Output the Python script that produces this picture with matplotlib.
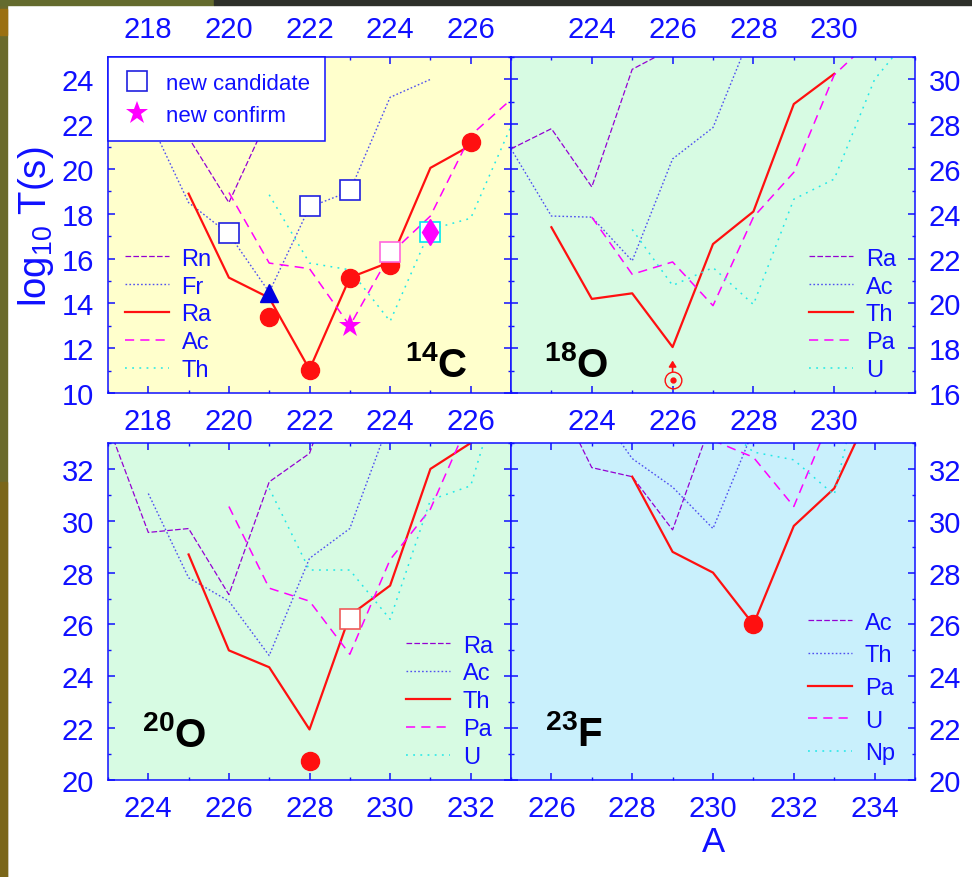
import numpy as np
import matplotlib
matplotlib.use("Agg")
import matplotlib.pyplot as plt
from matplotlib.patches import Rectangle

plt.rcParams['font.family'] = ['Liberation Sans', 'DejaVu Sans']
plt.rcParams['mathtext.fontset'] = 'custom'
plt.rcParams['mathtext.rm'] = 'Liberation Sans'
plt.rcParams['mathtext.it'] = 'Liberation Sans:italic'
plt.rcParams['mathtext.bf'] = 'Liberation Sans:bold'

# ---------------- 14C (Rn, Fr, Ra, Ac, Th) ----------------
c14_labels = ["Rn", "Fr", "Ra", "Ac", "Th"]
c14_x = [[218, 219, 220, 221, 222],
         [218, 219, 220, 221, 222, 223, 224, 225],
         [219, 220, 221, 222, 223, 224, 225, 226],
         [220, 221, 222, 223, 224, 225, 226, 227],
         [221, 222, 223, 224, 225, 226, 227]]
c14_y = [[24.5, 21.4, 18.5, 22.4, 26.0],
         [22.3, 18.5, 17.1, 14.5, 18.3, 19.0, 23.2, 24.0],
         [18.9, 15.15, 14.25, 11.05, 15.15, 15.85, 20.05, 21.05],
         [18.95, 15.8, 15.55, 13.0, 16.2, 17.9, 21.5, 23.1],
         [18.85, 15.8, 15.5, 13.2, 17.3, 17.8, 21.9]]
c14_cand_x = [220, 222, 223]
c14_cand_y = [17.15, 18.35, 19.05]
c14_cand_ac = (224, 16.3)
c14_cand_th = (225, 17.2)
c14_tri = (221, 14.45)
c14_exp_x = [221, 222, 223, 224, 226]
c14_exp_y = [13.4, 11.03, 15.15, 15.7, 21.2]
c14_star = (223, 13.0)
c14_diamond = (225, 17.2)

# ---------------- 18O (Ra, Ac, Th, Pa, U) ----------------
o18_labels = ["Ra", "Ac", "Th", "Pa", "U"]
o18_x = [[222, 223, 224, 225, 226],
         [222, 223, 224, 225, 226, 227, 228],
         [223, 224, 225, 226, 227, 228, 229, 230],
         [224, 225, 226, 227, 228, 229, 230, 231],
         [225, 226, 227, 228, 229, 230, 231, 232]]
o18_y = [[26.9, 27.8, 25.2, 30.45, 31.4],
         [26.9, 23.9, 23.85, 21.9, 26.45, 27.85, 32.3],
         [23.4, 20.2, 20.45, 18.05, 22.65, 24.1, 28.9, 30.25],
         [23.85, 21.3, 21.85, 19.9, 23.85, 25.85, 30.2, 31.9],
         [23.3, 20.8, 21.6, 19.95, 24.65, 25.55, 30.0, 32.2]]
o18_limit = (226, 16.58)
o18_limit_tip = 17.45

# ---------------- 20O (Ra, Ac, Th, Pa, U) ----------------
o20_labels = ["Ra", "Ac", "Th", "Pa", "U"]
o20_x = [[223, 224, 225, 226, 227, 228, 229],
         [224, 225, 226, 227, 228, 229, 230],
         [225, 226, 227, 228, 229, 230, 231, 232],
         [226, 227, 228, 229, 230, 231, 232],
         [227, 228, 229, 230, 231, 232, 233]]
o20_y = [[33.7, 29.55, 29.7, 27.15, 31.5, 32.6, 37.0],
         [31.05, 27.8, 26.9, 24.8, 28.55, 29.7, 33.9],
         [28.7, 25.0, 24.35, 21.95, 26.35, 27.5, 32.0, 33.0],
         [30.55, 27.4, 26.9, 24.85, 28.5, 30.45, 34.0],
         [31.25, 28.1, 28.1, 26.2, 30.8, 31.35, 36.5]]
o20_exp = (228, 20.72)
o20_cand = (229, 26.2)

# ---------------- 23F (Ac, Th, Pa, U, Np) ----------------
f23_labels = ["Ac", "Th", "Pa", "U", "Np"]
f23_x = [[226, 227, 228, 229, 230],
         [227, 228, 229, 230, 231],
         [228, 229, 230, 231, 232, 233, 234],
         [230, 231, 232, 233],
         [230, 231, 232, 233, 234]]
f23_y = [[35.2, 32.05, 31.7, 29.65, 34.0],
         [34.6, 32.4, 31.3, 29.7, 33.5],
         [31.7, 28.8, 28.0, 26.0, 29.8, 31.25, 34.6],
         [33.1, 32.45, 30.55, 34.3],
         [34.05, 32.65, 32.35, 31.0, 37.7]]
f23_exp = (231, 26.02)

BLUE = "#1010ff"
RED = "#ff1010"
STYLES = [dict(color="#9400d3", lw=0.9, dashes=(4.5, 1.8)),
          dict(color="#5050f0", lw=1.0, dashes=(1.2, 1.6)),
          dict(color=RED, lw=1.6, ls="-"),
          dict(color="#ff00ff", lw=1.1, dashes=(6, 4)),
          dict(color="#20e8e8", lw=1.1, dashes=(1.2, 3.5))]

fig = plt.figure(figsize=(9.72, 8.78), dpi=100)

# slide border strips
fig.add_artist(Rectangle((0, 0), 7 / 972, 1, transform=fig.transFigure, color="#6a6a2c", zorder=0))
fig.add_artist(Rectangle((0, 0), 7 / 972, 0.45, transform=fig.transFigure, color="#7a6619", zorder=0))
fig.add_artist(Rectangle((0, 1 - 6 / 878), 214 / 972, 6 / 878, transform=fig.transFigure, color="#646b2e", zorder=0))
fig.add_artist(Rectangle((214 / 972, 1 - 6 / 878), 1, 6 / 878, transform=fig.transFigure, color="#2e302a", zorder=0))
fig.add_artist(Rectangle((0, 1 - 36 / 878), 7 / 972, 26 / 878, transform=fig.transFigure, color="#9a7012", zorder=0))


def make_ax(rect, bg, xlim, ylim, xt, yt, top=False, right=False):
    ax = fig.add_axes(rect)
    ax.set_facecolor(bg)
    ax.set_xlim(*xlim); ax.set_ylim(*ylim)
    ax.set_xticks(xt); ax.set_yticks(yt)
    ax.set_xticks(np.arange(xlim[0], xlim[1] + 1, 1), minor=True)
    ax.set_yticks(np.arange(ylim[0], ylim[1] + 1, 1), minor=True)
    for s in ax.spines.values():
        s.set_color(BLUE); s.set_linewidth(1.1)
    ax.tick_params(which="both", direction="in", top=True, right=True, colors=BLUE,
                   labelsize=21, labeltop=top, labelleft=not right, labelright=right)
    ax.tick_params(which="major", length=5, width=1.1, pad=10)
    ax.tick_params(which="minor", length=2.5, width=1.0)
    return ax


def draw_lines(ax, xs, ys, labels):
    hs = []
    for x, y, lab, st in zip(xs, ys, labels, STYLES):
        h, = ax.plot(x, y, label=lab, **st)
        hs.append(h)
    return hs


def line_legend(ax, hs, loc, anchor, spacing):
    leg = ax.legend(handles=hs, loc=loc, bbox_to_anchor=anchor, frameon=False, fontsize=17,
                    handlelength=1.85, handletextpad=0.55, labelspacing=spacing,
                    borderaxespad=0, borderpad=0, labelcolor=BLUE)
    return leg


H = 336 / 878
ax1 = make_ax([108 / 972, 1 - 394 / 878, 403 / 972, H], "#ffffcc", (217, 227), (10, 25),
              [218, 220, 222, 224, 226], np.arange(10, 25, 2), top=True)
ax2 = make_ax([511 / 972, 1 - 394 / 878, 404 / 972, H], "#d7fbe3", (222, 232), (16, 31),
              [224, 226, 228, 230], np.arange(16, 31, 2), top=True, right=True)
ax3 = make_ax([108 / 972, 1 - 781 / 878, 403 / 972, 337 / 878], "#d7fbe3", (223, 233), (20, 33),
              [224, 226, 228, 230, 232], np.arange(20, 33, 2))
ax4 = make_ax([511 / 972, 1 - 781 / 878, 404 / 972, 337 / 878], "#c9f0fc", (225, 235), (20, 33),
              [226, 228, 230, 232, 234], np.arange(20, 33, 2), right=True)

# ---- 14C panel
hs = draw_lines(ax1, c14_x, c14_y, c14_labels)
ax1.plot(c14_exp_x, c14_exp_y, "o", color=RED, ms=13, zorder=4)
sq, = ax1.plot(c14_cand_x, c14_cand_y, "s", mfc="white", mec="#2020e0", mew=1.2, ms=14, zorder=4,
               label="new candidate")
ax1.plot(*c14_cand_ac, "s", mfc="white", mec="#ff66dd", mew=1.2, ms=14, zorder=4)
ax1.plot(*c14_cand_th, "s", mfc="white", mec="#00e8f0", mew=1.2, ms=14, zorder=4)
ax1.plot(*c14_diamond, "d", color="#ff00ff", ms=13, zorder=5)
ax1.plot(*c14_tri, "^", color="#0000e0", ms=13, zorder=5)
st, = ax1.plot(*c14_star, "*", color="#ff00ff", ms=17, mew=0, zorder=5, label="new confirm")
leg_c = ax1.legend(handles=[sq, st], loc="upper left", bbox_to_anchor=(0, 1), borderaxespad=0,
                   fontsize=16, fancybox=False, framealpha=1, edgecolor=BLUE, labelcolor=BLUE,
                   handlelength=1.2, handletextpad=0.7, borderpad=0.7, labelspacing=0.5)
leg_c.get_frame().set_linewidth(1.1)
leg_c.set_zorder(10)
ax1.add_artist(leg_c)
line_legend(ax1, hs, "lower left", (0.042, 0.035), 0.25)
ax1.text(0.893, 0.05, r"$^{\mathbf{14}}\mathbf{C}$", transform=ax1.transAxes, ha="right",
         va="baseline", fontsize=29)

# ---- 18O panel
hs = draw_lines(ax2, o18_x, o18_y, o18_labels)
ax2.plot(*o18_limit, "o", mfc="none", mec=RED, mew=1.0, ms=12, zorder=5)
ax2.plot(*o18_limit, "o", color=RED, ms=3.5, zorder=5)
ax2.annotate("", xy=(o18_limit[0], o18_limit_tip), xytext=(o18_limit[0], o18_limit[1] + 0.38),
             arrowprops=dict(arrowstyle="-|>,head_length=0.35,head_width=0.22", color=RED, lw=1.2,
                             shrinkA=0, shrinkB=0))
line_legend(ax2, hs, "lower right", (0.953, 0.035), 0.25)
ax2.text(0.082, 0.05, r"$^{\mathbf{18}}\mathbf{O}$", transform=ax2.transAxes, ha="left",
         va="baseline", fontsize=29)

# ---- 20O panel
hs = draw_lines(ax3, o20_x, o20_y, o20_labels)
ax3.plot(*o20_exp, "o", color=RED, ms=13, zorder=4)
ax3.plot(*o20_cand, "s", mfc="white", mec="#f05a5a", mew=1.2, ms=14, zorder=4)
line_legend(ax3, hs, "lower right", (0.955, 0.035), 0.25)
ax3.text(0.084, 0.10, r"$^{\mathbf{20}}\mathbf{O}$", transform=ax3.transAxes, ha="left",
         va="baseline", fontsize=29)

# ---- 23F panel
hs = draw_lines(ax4, f23_x, f23_y, f23_labels)
ax4.plot(*f23_exp, "o", color=RED, ms=13, zorder=4)
line_legend(ax4, hs, "lower right", (0.95, 0.047), 0.45)
ax4.text(0.084, 0.104, r"$^{\mathbf{23}}\mathbf{F}$", transform=ax4.transAxes, ha="left",
         va="baseline", fontsize=29)

fig.text(36 / 972, 1 - 227 / 878, r"log$_{10}$ T(s)", rotation=90, ha="center", va="center",
         fontsize=27.5, color=BLUE)
fig.text(713 / 972, 1 - 843 / 878, "A", ha="center", va="center", fontsize=25, color=BLUE)

fig.savefig("out.png", dpi=100, facecolor="white")
